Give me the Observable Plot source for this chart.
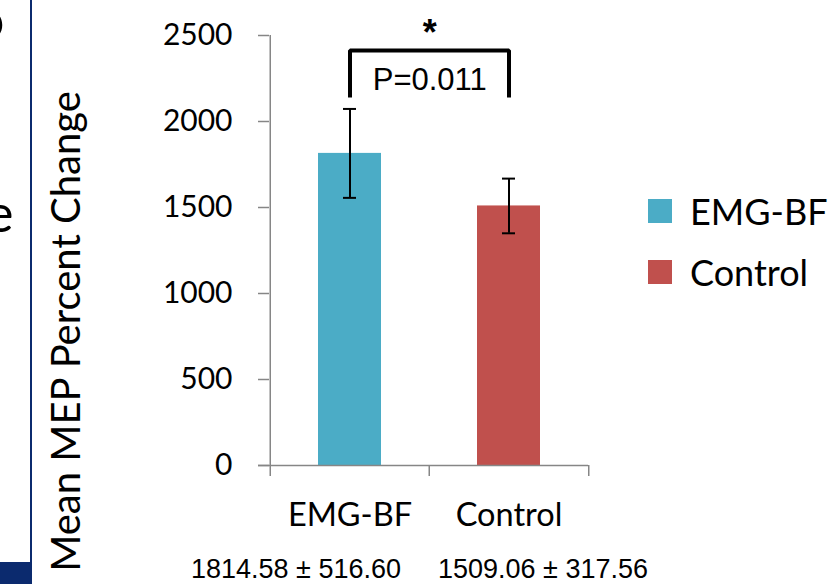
<!DOCTYPE html>
<html>
<head>
<meta charset="utf-8">
<script src="https://cdn.jsdelivr.net/npm/d3@7"></script>
<script src="https://cdn.jsdelivr.net/npm/@observablehq/plot@0.6"></script>
<style>
  html, body { margin: 0; padding: 0; background: #fff; }
  #page { position: relative; width: 837px; height: 584px; overflow: hidden; background: #fff; }
  #chart { position: absolute; left: 0; top: 0; }
  #legend { position: absolute; left: 648px; top: 189px; font-family: Lato, sans-serif; font-size: 36px; color: #000; }
  #legend div[class$="-swatch"] { margin-bottom: 16px; }
  .deco-line { position: absolute; left: 30px; top: 0; width: 2px; height: 562px; background: #0b2a6e; }
  .deco-block { position: absolute; left: 0; top: 562px; width: 32px; height: 22px; background: #0b2a6e; }
  .deco-text { position: absolute; font-family: Lato, sans-serif; color: #000; line-height: 1; }
</style>
</head>
<body>
<div id="page">
  <div class="deco-line"></div>
  <div class="deco-block"></div>
  <span class="deco-text" style="left:-24px; top:-6px; font-size:50px;">o</span>
  <span class="deco-text" style="left:-14px; top:186px; font-size:52px;">e</span>
  <div id="chart"></div>
  <div id="legend"></div>
</div>
<script>
// ---- data ----
const groups = ["EMG-BF", "Control"];
const means = [1814.58, 1509.06];
const errLow = [1556, 1350];
const errHigh = [2073, 1668];
const colors = ["#4bacc6", "#c0504d"];
const sdLabels = ["1814.58 \u00b1 516.60", "1509.06 \u00b1 317.56"];
const yTicks = [0, 500, 1000, 1500, 2000, 2500];
const pLabel = "P=0.011";
const sigMark = "*";
const bracketTop = 2413;
const bracketEnd = 2140;
const yTitle = "Mean MEP Percent Change";

const data = groups.map((g, i) => ({group: g, value: means[i], lo: errLow[i], hi: errHigh[i], sd: sdLabels[i]}));

const W = 837, H = 584, mL = 269, mR = 249, mT = 35, mB = 119;
const step = (W - mL - mR) / groups.length;
const axisGrey = "#868686";

const bracket = [
  {x: groups[0], y: bracketEnd},
  {x: groups[0], y: bracketTop},
  {x: groups[1], y: bracketTop},
  {x: groups[1], y: bracketEnd}
];

const chart = Plot.plot({
  width: W, height: H,
  marginLeft: mL, marginRight: mR, marginTop: mT, marginBottom: mB,
  style: {fontFamily: "Lato, sans-serif", background: "transparent", overflow: "visible"},
  x: {domain: groups, padding: 0, axis: null},
  y: {domain: [0, 2500], axis: null},
  color: {domain: groups, range: colors},
  marks: [
    // bars
    Plot.barY(data, {x: "group", y: "value", fill: "group", insetLeft: 48, insetRight: 48}),
    // y axis
    Plot.axisY({ticks: yTicks, tickSize: 11, tickPadding: 26, tickFormat: d => String(d), label: null, fontSize: 30, stroke: axisGrey, strokeWidth: 1.5, fill: "#000"}),
    Plot.ruleX([0], {y1: 0, y2: 2500, stroke: axisGrey, strokeWidth: 1.5, x: () => groups[0], dx: -step / 2}),
    // x axis line and band-edge ticks
    Plot.ruleY([0], {stroke: axisGrey, strokeWidth: 1.5, insetLeft: -11}),
    Plot.ruleX(groups, {x: d => d, dx: -step / 2, y1: 0, y2: -64, stroke: axisGrey, strokeWidth: 1.5}),
    Plot.ruleX([groups[groups.length - 1]], {x: d => d, dx: step / 2, y1: 0, y2: -64, stroke: axisGrey, strokeWidth: 1.5}),
    // x labels
    Plot.text(groups, {x: d => d, text: d => d, frameAnchor: "bottom", dy: 60, fontSize: 32.5, fill: "#000"}),
    // error bars
    Plot.ruleX(data, {x: "group", y1: "lo", y2: "hi", stroke: "#000", strokeWidth: 2}),
    Plot.tickY(data, {x: "group", y: "lo", inset: 73, stroke: "#000", strokeWidth: 2}),
    Plot.tickY(data, {x: "group", y: "hi", inset: 73, stroke: "#000", strokeWidth: 2}),
    // significance bracket
    Plot.line(bracket, {x: "x", y: "y", stroke: "#000", strokeWidth: 4, strokeLinejoin: "miter", strokeLinecap: "butt"}),
    Plot.text([sigMark], {x: () => groups[0], y: () => 2514, dx: step / 2, text: d => d, fontSize: 36, fontWeight: "bold", fontFamily: "Liberation Sans, Arial, sans-serif", fill: "#000"}),
    Plot.text([pLabel], {x: () => groups[0], y: () => 2238, dx: step / 2, text: d => d, fontSize: 31, fontFamily: "Liberation Sans, Arial, sans-serif", fill: "#000"}),
    // y title
    Plot.text([yTitle], {frameAnchor: "left", textAnchor: "middle", y: () => 779, text: d => d, rotate: -90, dx: -202, fontSize: 40, fill: "#000"}),
    // mean ± SD labels
    ...data.map((d, i) => Plot.text([d], {x: "group", text: "sd", frameAnchor: "bottom", dy: 112, dx: [-54, 34][i], fontSize: 27, fontFamily: "Liberation Sans, Arial, sans-serif", fill: "#000"}))
  ]
});
document.getElementById("chart").appendChild(chart);

const legend = Plot.legend({
  color: {domain: groups, range: colors},
  legend: "swatches",
  columns: 1,
  swatchSize: 24,
  style: {fontFamily: "Lato, sans-serif", fontSize: "36px", color: "#000"}
});
document.getElementById("legend").appendChild(legend);
</script>
</body>
</html>
